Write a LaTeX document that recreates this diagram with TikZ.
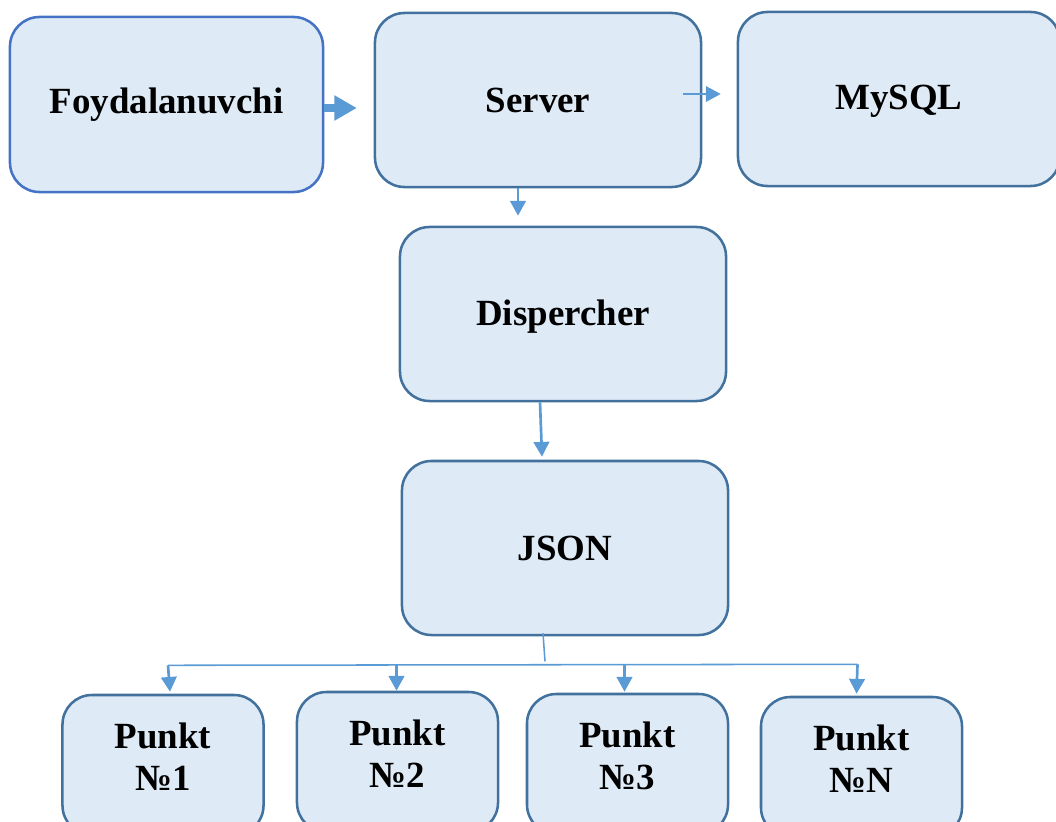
\documentclass[tikz,border=0pt]{standalone}
\usepackage{fontspec}
\setmainfont{Liberation Serif}
\usetikzlibrary{arrows.meta,calc}
\definecolor{boxfill}{HTML}{DEEAF6}
\definecolor{edgeA}{HTML}{4472C4}
\definecolor{edgeB}{HTML}{41719C}
\definecolor{arrblue}{HTML}{5B9BD5}
\newcommand{\shiftbox}[2]{\raisebox{#1}[\height][\depth]{#2}}
\newcommand{\twoline}[2]{\shiftbox{3pt}{\begin{tabular}{@{}c@{}}#1\\[-1pt]#2\end{tabular}}}
\tikzset{
  box/.style={draw=edgeB, fill=boxfill, line width=1.8pt, rounded corners=21pt,
    font=\fontsize{26.25}{31}\selectfont\bfseries, align=center, inner sep=0pt},
  bigbox/.style={box, minimum width=326*0.7113pt, minimum height=174*0.7113pt},
  pbox/.style={box, minimum width=201*0.7113pt, minimum height=140*0.7113pt},
  bigarr/.style={draw=arrblue, line width=5pt, -{Triangle[length=16pt,width=17pt]}, arrblue},
  arr/.style={draw=arrblue, line width=1.9pt, -{Triangle[length=10.5pt,width=11pt]}, arrblue},
  thinline/.style={draw=arrblue, line width=1.1pt},
}
\begin{document}
\begin{tikzpicture}[x=0.025cm,y=-0.025cm]
\useasboundingbox (0,0) rectangle (1056,821);
\clip (0,0) rectangle (1056,821);
\node[bigbox, draw=edgeA, minimum width=313*0.7113pt, minimum height=175*0.7113pt] (foy) at (166.5,104.5) {Foydalanuvchi};
\node[bigbox] (server) at (538,100) {Server};
\node[bigbox, minimum width=322*0.7113pt] (mysql) at (899,99) {\shiftbox{-1.5pt}{MySQL}};
\node[bigbox] (disp) at (563,314) {\shiftbox{-2pt}{Dispercher}};
\node[bigbox] (json) at (565,548) {JSON};
\node[pbox] (p1) at (163,765) {\twoline{Punkt}{№1}};
\node[pbox] (p2) at (397.5,762) {\twoline{Punkt}{№2}};
\node[pbox] (p3) at (627.5,764) {\twoline{Punkt}{№3}};
\node[pbox] (pN) at (861.5,767) {\twoline{Punkt}{№N}};
% arrows
\draw[bigarr, shorten >=12pt] ($(foy.east)+(0,3.5)$) -- ($(foy.east -| server.west)+(0,3.5)$);
\draw[arr, line width=1.4pt] ($(server.east)+(-19,-6)$) -- ($(mysql.west)+(-16,-5)$);
\draw[arr] ($(server.south)+(-20,0)$) -- ($(disp.north)+(-45,-10)$);
\draw[arr] ($(disp.south)+(-23,0)$) -- ($(json.north)+(-23,-3)$);
% bus
\coordinate (bus) at ($(json.south)+(0,29)$);
\draw[thinline] ($(json.south)+(-22,-3)$) -- ($(json.south)+(-20,25)$);
\draw[thinline] ($(p1.north |- bus)+(5,0)$) -- ($(pN.north |- bus)+(-4,-1)$);
\draw[arr] ($(p1.north |- bus)+(5,0)$) -- ($(p1.north)+(7,-2)$);
\draw[arr] ($(p2.north |- bus)+(-1,0)$) -- ($(p2.north)+(-1,0)$);
\draw[arr] ($(p3.north |- bus)+(-3,0)$) -- ($(p3.north)+(-3,-1)$);
\draw[arr] ($(pN.north |- bus)+(-4,-1)$) -- ($(pN.north)+(-5,-2)$);
\end{tikzpicture}
\end{document}
